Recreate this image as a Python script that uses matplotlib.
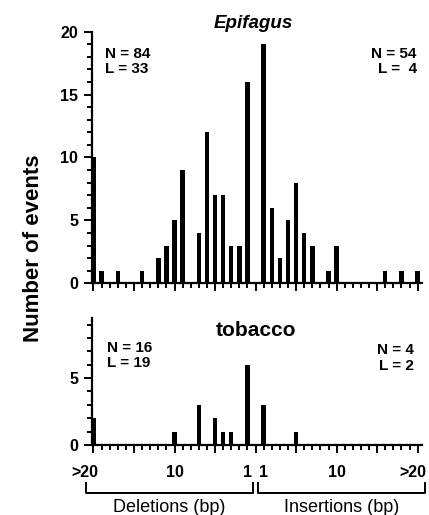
import matplotlib

matplotlib.use("Agg")
import matplotlib.pyplot as plt
from matplotlib.ticker import FixedLocator, NullFormatter
import matplotlib.transforms as mtransforms

plt.rcParams["font.family"] = ["Liberation Sans", "DejaVu Sans"]

# sizes 1..19, last entry is ">20"
sizes = list(range(1, 21))
epi_del = [16, 3, 3, 7, 7, 12, 4, 0, 9, 5, 3, 2, 0, 1, 0, 0, 1, 0, 1, 10]
epi_ins = [19, 6, 2, 5, 8, 4, 3, 0, 1, 3, 0, 0, 0, 0, 0, 1, 0, 1, 0, 1]
tob_del = [6, 0, 1, 1, 2, 0, 3, 0, 0, 1, 0, 0, 0, 0, 0, 0, 0, 0, 0, 2]
tob_ins = [3, 0, 0, 0, 1, 0, 0, 0, 0, 0, 0, 0, 0, 0, 0, 0, 0, 0, 0, 0]

size_labels = [">20", "10", "1", "1", "10", ">20"]
size_label_pos = [-20, -10, -1, 1, 10, 20]
long_ticks = [-20, -15, -10, -5, 0, 5, 10, 15, 20]

epi_stats = ("N = 84\nL = 33", "N = 54\nL =  4")
tob_stats = ("N = 16\nL = 19", "N = 4\nL = 2")


def draw_panel(ax, dels, ins, ymax, yticks):
    xs = [-s for s in sizes] + sizes
    ys = dels + ins
    ax.bar(xs, ys, width=0.55, color="black", linewidth=0)
    ax.set_xlim(-20.18, 20.5)
    ax.set_ylim(0, ymax)
    for side in ("top", "right"):
        ax.spines[side].set_visible(False)
    for side in ("left", "bottom"):
        ax.spines[side].set_linewidth(1.6)
    ax.xaxis.set_major_locator(FixedLocator(long_ticks))
    ax.xaxis.set_minor_locator(FixedLocator(range(-20, 21)))
    ax.xaxis.set_major_formatter(NullFormatter())
    ax.yaxis.set_major_locator(FixedLocator(yticks))
    ax.yaxis.set_minor_locator(FixedLocator(range(0, int(ymax) + 1)))
    ax.tick_params(axis="both", which="major", direction="out", length=6, width=1.4,
                   labelsize=11.5, pad=4)
    ax.tick_params(axis="both", which="minor", direction="out", length=3.5, width=1.4)
    for lab in ax.get_yticklabels():
        lab.set_fontweight("bold")


fig = plt.figure(figsize=(4.29, 5.15), dpi=100)
ax1 = fig.add_axes([0.2145, 0.450, 0.7685, 0.4885])
ax2 = fig.add_axes([0.2145, 0.136, 0.7685, 0.2466])

draw_panel(ax1, epi_del, epi_ins, 20, [0, 5, 10, 15, 20])
draw_panel(ax2, tob_del, tob_ins, 9.5, [0, 5])

ax1.text(0.04, 0.94, epi_stats[0], transform=ax1.transAxes, fontsize=11,
         fontweight="bold", va="top", ha="left", linespacing=1.15)
ax1.text(0.985, 0.94, epi_stats[1], transform=ax1.transAxes, fontsize=11,
         fontweight="bold", va="top", ha="right", linespacing=1.15)
ax2.text(0.045, 0.82, tob_stats[0], transform=ax2.transAxes, fontsize=11,
         fontweight="bold", va="top", ha="left", linespacing=1.15)
ax2.text(0.975, 0.80, tob_stats[1], transform=ax2.transAxes, fontsize=11,
         fontweight="bold", va="top", ha="right", linespacing=1.15)

fig.text(0.59, 0.955, "Epifagus", fontsize=13.5, fontweight="bold", style="italic",
         ha="center", va="center")
fig.text(0.597, 0.358, "tobacco", fontsize=15, fontweight="bold", ha="center", va="center")
fig.text(0.077, 0.518, "Number of events", rotation=90, fontsize=16, fontweight="bold",
         ha="center", va="center")

# size labels and brackets under the lower panel; the end labels sit a bit inboard
trans = mtransforms.blended_transform_factory(ax2.transData, ax2.transAxes)
nudge = {-20: -1.0, 20: -0.6}
for pos, lab in zip(size_label_pos, size_labels):
    ax2.text(pos + nudge.get(pos, 0), -0.215, lab, transform=trans, fontsize=11.5,
             fontweight="bold", ha="center", va="center")

for x0, x1, name in [(-20.9, -0.3, "Deletions (bp)"), (0.3, 20.9, "Insertions (bp)")]:
    ax2.plot([x0, x0, x1, x1], [-0.30, -0.375, -0.375, -0.30], transform=trans,
             color="black", linewidth=1.4, clip_on=False)
    ax2.text((x0 + x1) / 2, -0.49, name, transform=trans, fontsize=13,
             ha="center", va="center")

fig.savefig("out.png", dpi=100)
